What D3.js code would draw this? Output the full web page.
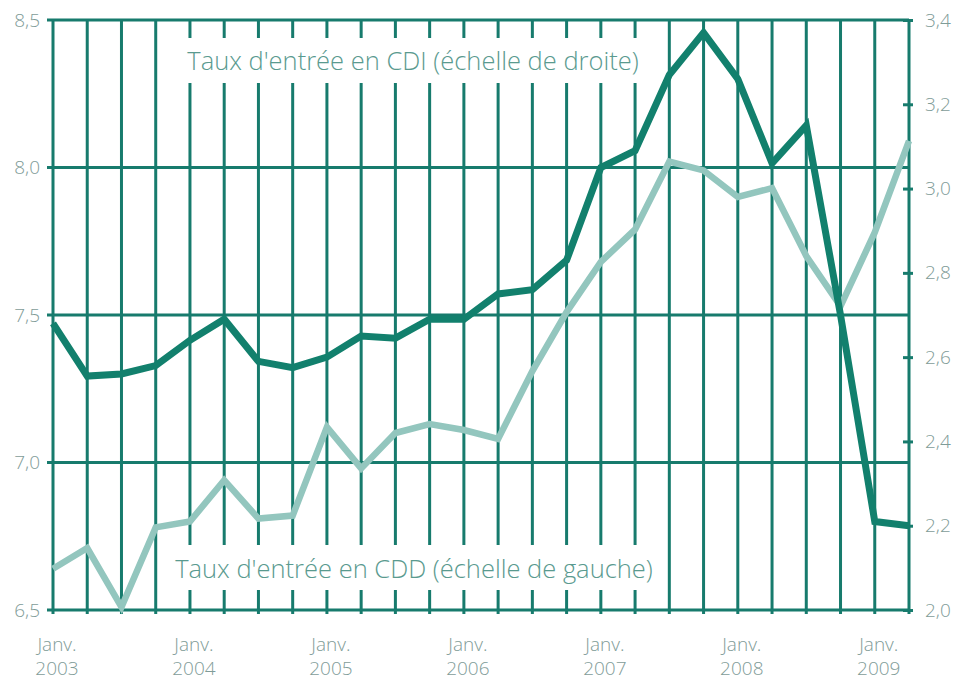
<!DOCTYPE html>
<html>
<head>
<meta charset="utf-8">
<script src="https://cdn.jsdelivr.net/npm/d3@7"></script>
<style>
	body { margin: 0; background: #ffffff; }
	svg { display: block; }
	text { font-family: "Open Sans", "DejaVu Sans", sans-serif; font-weight: 300; }
</style>
</head>
<body>
<div id="chart"></div>
<script>
//quarters from Janv. 2003 to Avr. 2009
var quarters = ["2003T1","2003T2","2003T3","2003T4","2004T1","2004T2","2004T3","2004T4",
	"2005T1","2005T2","2005T3","2005T4","2006T1","2006T2","2006T3","2006T4",
	"2007T1","2007T2","2007T3","2007T4","2008T1","2008T2","2008T3","2008T4",
	"2009T1","2009T2"];

//taux d'entree en CDD (left scale)
var cddValues = [6.64, 6.71, 6.51, 6.78, 6.80, 6.94, 6.81, 6.82, 7.12, 6.98, 7.10, 7.13, 7.11,
	7.08, 7.31, 7.51, 7.68, 7.79, 8.02, 7.99, 7.90, 7.93, 7.70, 7.53, 7.78, 8.09];

//taux d'entree en CDI (right scale)
var cdiValues = [2.68, 2.555, 2.56, 2.58, 2.64, 2.69, 2.59, 2.575, 2.60, 2.65, 2.645, 2.69, 2.69,
	2.75, 2.76, 2.83, 3.05, 3.09, 3.27, 3.37, 3.26, 3.06, 3.15, 2.70, 2.21, 2.20];

//tick labels
var leftTicks = [6.5, 7.0, 7.5, 8.0, 8.5];
var rightTicks = [2.0, 2.2, 2.4, 2.6, 2.8, 3.0, 3.2, 3.4];
var yearLabels = [
	{q: "2003T1", l1: "Janv.", l2: "2003"},
	{q: "2004T1", l1: "Janv.", l2: "2004"},
	{q: "2005T1", l1: "Janv.", l2: "2005"},
	{q: "2006T1", l1: "Janv.", l2: "2006"},
	{q: "2007T1", l1: "Janv.", l2: "2007"},
	{q: "2008T1", l1: "Janv.", l2: "2008"},
	{q: "2009T1", l1: "Janv.", l2: "2009"}
];

var gridColor = "#177b6d";
var cdiColor = "#12806d";
var cddColor = "#93c6be";
var textColor = "#5a9a8f";
var tickColor = "#7f9c98";

//plot box (do not call it "top": that is window.top)
var box = {left: 53, right: 909, top: 20, bottom: 610};

var svg = d3.select("#chart").append("svg")
	.attr("width", 955)
	.attr("height", 680);

//scales
var x = d3.scalePoint().domain(quarters).range([box.left, box.right]);
var yLeft = d3.scaleLinear().domain([6.5, 8.5]).range([box.bottom, box.top]);
var yRight = d3.scaleLinear().domain([2.0, 3.4]).range([box.bottom, box.top]);

var fr = d3.formatLocale({decimal: ",", thousands: " ", grouping: [3], currency: ["", " €"]});
var fmt = fr.format(".1f");

//vertical grid lines, one for each quarter
svg.append("g").selectAll("line")
	.data(quarters)
	.enter().append("line")
	.attr("x1", d => x(d))
	.attr("x2", d => x(d))
	.attr("y1", box.top)
	.attr("y2", box.bottom + 4)
	.attr("stroke", gridColor)
	.attr("stroke-width", 3);

//horizontal grid lines on the left scale
svg.append("g").selectAll("line")
	.data(leftTicks)
	.enter().append("line")
	.attr("x1", box.left - 6)
	.attr("x2", box.right)
	.attr("y1", d => yLeft(d))
	.attr("y2", d => yLeft(d))
	.attr("stroke", gridColor)
	.attr("stroke-width", 3);

//left axis labels
var leftAxis = svg.append("g")
	.attr("transform", "translate(" + box.left + ",0)")
	.call(d3.axisLeft(yLeft).tickValues(leftTicks).tickFormat(fmt).tickSize(0).tickPadding(13));
leftAxis.select(".domain").remove();
leftAxis.selectAll("text")
	.attr("fill", tickColor)
	.attr("font-size", 19);

//right axis with small ticks
var rightAxis = svg.append("g")
	.attr("transform", "translate(" + box.right + ",0)")
	.call(d3.axisRight(yRight).tickValues(rightTicks).tickFormat(fmt).tickSizeInner(4).tickSizeOuter(0).tickPadding(12));
rightAxis.select(".domain").remove();
rightAxis.selectAll("line")
	.attr("x1", -6)
	.attr("stroke", gridColor)
	.attr("stroke-width", 3);
rightAxis.selectAll("text")
	.attr("fill", tickColor)
	.attr("font-size", 19);

//white boxes that cut the grid behind the two labels
svg.append("rect")
	.attr("x", 173).attr("y", 38)
	.attr("width", 476).attr("height", 45)
	.attr("fill", "#ffffff");
svg.append("rect")
	.attr("x", 173).attr("y", 545)
	.attr("width", 476).attr("height", 45)
	.attr("fill", "#ffffff");

svg.append("text")
	.attr("x", 413).attr("y", 70)
	.attr("text-anchor", "middle")
	.attr("font-size", 25.5)
	.attr("fill", textColor)
	.text("Taux d'entrée en CDI (échelle de droite)");

svg.append("text")
	.attr("x", 414).attr("y", 578)
	.attr("text-anchor", "middle")
	.attr("font-size", 25.5)
	.attr("fill", textColor)
	.text("Taux d'entrée en CDD (échelle de gauche)");

//x labels
var xl = svg.append("g").selectAll("text")
	.data(yearLabels)
	.enter().append("text")
	.attr("text-anchor", "middle")
	.attr("font-size", 19)
	.attr("fill", tickColor);
xl.append("tspan").attr("x", d => x(d.q) + 4).attr("y", 651).text(d => d.l1);
xl.append("tspan").attr("x", d => x(d.q) + 4).attr("y", 675).text(d => d.l2);

//lines
var cddLine = d3.line()
	.x((d, i) => x(quarters[i]))
	.y(d => yLeft(d));
var cdiLine = d3.line()
	.x((d, i) => x(quarters[i]))
	.y(d => yRight(d));

svg.append("path")
	.datum(cddValues)
	.attr("d", cddLine)
	.attr("fill", "none")
	.attr("stroke", cddColor)
	.attr("stroke-width", 6.5)
	.attr("stroke-linejoin", "miter");

svg.append("path")
	.datum(cdiValues)
	.attr("d", cdiLine)
	.attr("fill", "none")
	.attr("stroke", cdiColor)
	.attr("stroke-width", 7)
	.attr("stroke-linejoin", "miter");
</script>
</body>
</html>
